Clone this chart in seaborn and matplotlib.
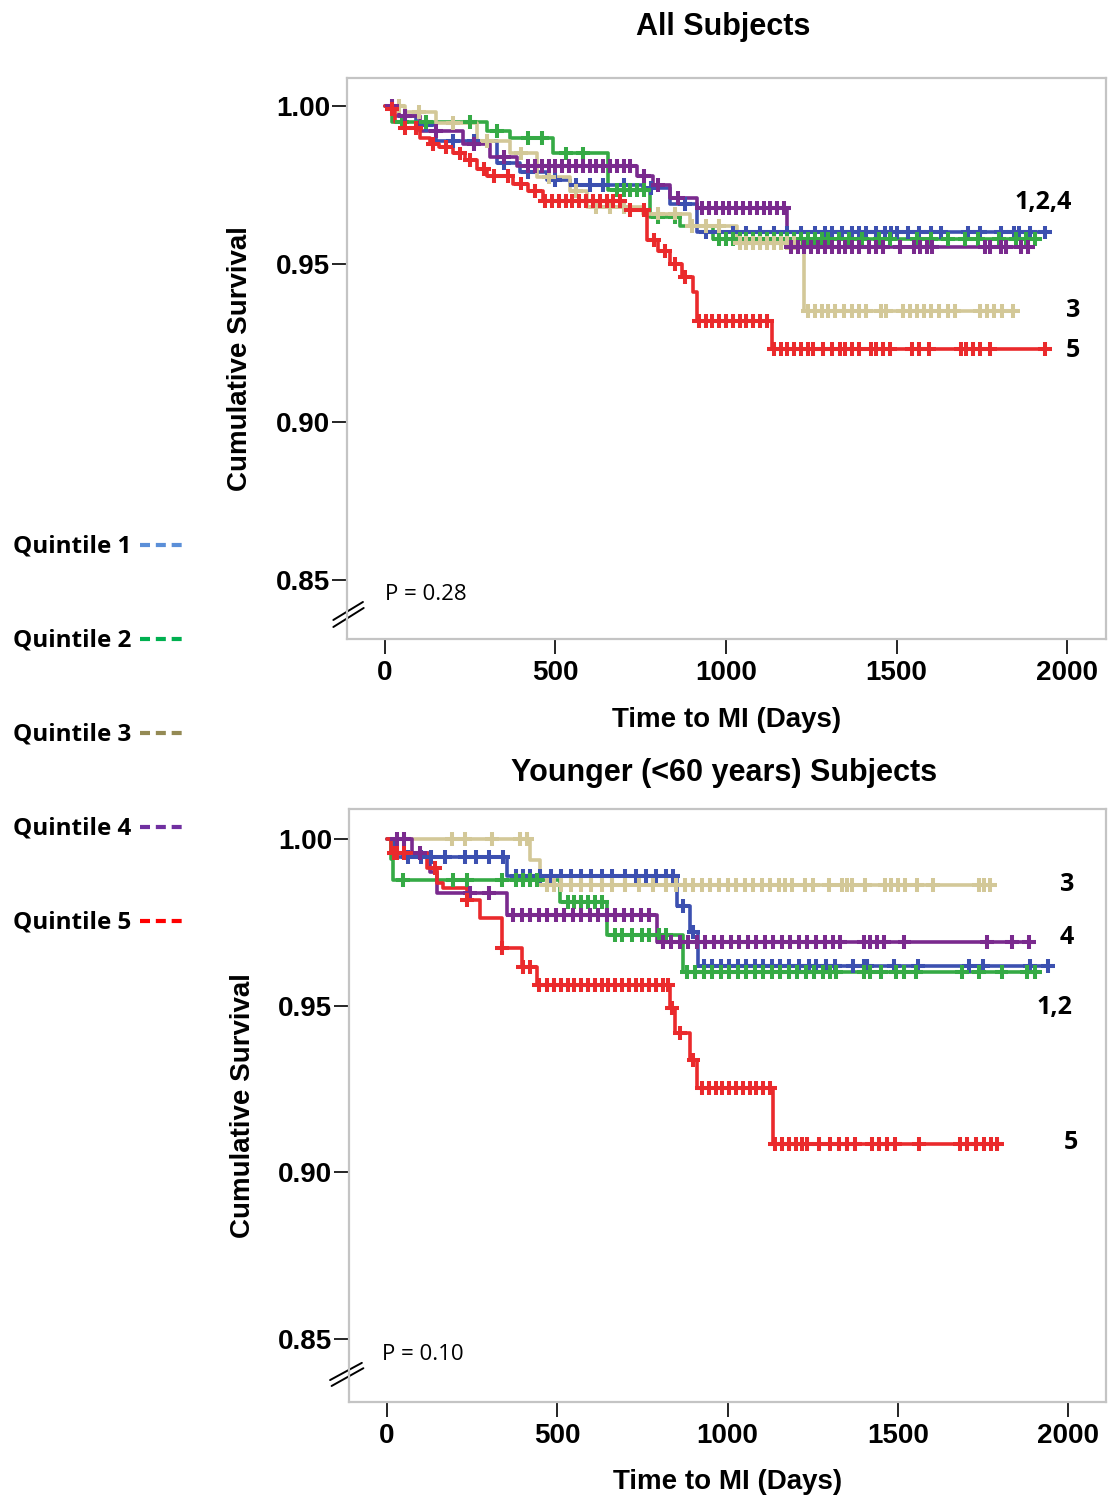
import numpy as np
import pandas as pd
import matplotlib
matplotlib.use("Agg")
import matplotlib.pyplot as plt
import seaborn as sns
from matplotlib.lines import Line2D

sns.set_theme(style="white")
plt.rcParams['font.family'] = ['Liberation Sans', 'DejaVu Sans']
plt.rcParams['text.color'] = 'black'
plt.rcParams['axes.labelcolor'] = 'black'
plt.rcParams['xtick.color'] = 'black'
plt.rcParams['ytick.color'] = 'black'

# ---------------- data ----------------
quintiles = ["Quintile 1", "Quintile 2", "Quintile 3", "Quintile 4", "Quintile 5"]
curve_colors = ["#3c50b0", "#35aa45", "#d3c898", "#7a2a8e", "#ea2a2c"]
legend_colors = ["#5b8fd8", "#00b050", "#948a54", "#7030a0", "#ff0000"]

x_ticks = [0, 500, 1000, 1500, 2000]
y_ticks = [0.85, 0.90, 0.95, 1.00]
y_tick_labels = ["0.85", "0.90", "0.95", "1.00"]

# ---- Panel A: All Subjects (event times, survival after event, last follow-up, censor times)
a_q1_t = [25, 90, 150, 330, 396, 475, 543, 757, 836, 915]
a_q1_s = [0.997, 0.994, 0.989, 0.982, 0.979, 0.9766, 0.975, 0.974, 0.969, 0.960]
a_q1_end = 1935
a_q1_c = [60, 120, 200, 260, 350, 420, 500, 560, 600, 640, 700, 780, 880, 940, 980, 1020,
          1060, 1100, 1140, 1180, 1220, 1260, 1290, 1310, 1340, 1370, 1390, 1410, 1440,
          1465, 1485, 1500, 1535, 1565, 1600, 1630, 1710, 1745, 1805, 1845, 1860, 1890, 1935]

a_q2_t = [20, 300, 367, 493, 655, 777, 865, 962]
a_q2_s = [0.995, 0.992, 0.990, 0.985, 0.9734, 0.965, 0.962, 0.958]
a_q2_end = 1906
a_q2_c = [50, 120, 250, 330, 420, 460, 530, 580, 680, 700, 720, 740, 760, 800, 850, 980,
          1000, 1020, 1040, 1060, 1080, 1100, 1120, 1140, 1160, 1180, 1200, 1220, 1240,
          1260, 1280, 1300, 1330, 1360, 1400, 1450, 1480, 1560, 1600, 1650, 1700, 1740,
          1800, 1850, 1880, 1906]

a_q3_t = [60, 150, 270, 367, 445, 543, 592, 757, 894, 1032, 1230]
a_q3_s = [0.998, 0.9946, 0.989, 0.985, 0.9775, 0.973, 0.968, 0.966, 0.962, 0.9566, 0.935]
a_q3_end = 1842
a_q3_c = [40, 100, 200, 300, 400, 480, 560, 620, 660, 700, 800, 850, 900, 940, 980, 1040,
          1060, 1080, 1100, 1120, 1140, 1160, 1180, 1200, 1240, 1260, 1280, 1300, 1320,
          1345, 1370, 1390, 1410, 1455, 1470, 1520, 1540, 1560, 1580, 1600, 1625, 1650,
          1670, 1745, 1765, 1785, 1810, 1842]

a_q4_t = [40, 103, 229, 308, 387, 739, 786, 836, 915, 1179]
a_q4_s = [0.997, 0.992, 0.988, 0.984, 0.981, 0.978, 0.975, 0.971, 0.9677, 0.9554]
a_q4_end = 1891
a_q4_c = [20, 60, 150, 260, 350, 420, 440, 460, 480, 500, 520, 540, 560, 580, 600, 620,
          640, 660, 680, 700, 720, 760, 800, 860, 930, 950, 970, 990, 1010, 1030, 1050,
          1070, 1090, 1110, 1130, 1150, 1170, 1190, 1210, 1230, 1250, 1270, 1290, 1310,
          1330, 1350, 1370, 1390, 1420, 1440, 1460, 1510, 1550, 1570, 1590, 1605, 1760,
          1775, 1805, 1820, 1865, 1885]

a_q5_t = [10, 30, 55, 103, 132, 160, 200, 235, 270, 300, 375, 420, 463, 700, 768, 800,
          836, 870, 903, 915, 1135]
a_q5_s = [0.999, 0.995, 0.993, 0.990, 0.988, 0.987, 0.985, 0.983, 0.980, 0.978, 0.9755,
          0.973, 0.970, 0.967, 0.9576, 0.954, 0.950, 0.946, 0.941, 0.932, 0.923]
a_q5_end = 1935
a_q5_c = [20, 60, 90, 140, 180, 220, 250, 290, 320, 360, 400, 440, 470, 490, 510, 530,
          550, 570, 590, 610, 630, 650, 670, 690, 720, 760, 790, 820, 850, 880, 920, 940,
          960, 980, 1000, 1020, 1040, 1060, 1080, 1100, 1120, 1140, 1160, 1180, 1200,
          1220, 1240, 1255, 1285, 1310, 1335, 1350, 1370, 1390, 1425, 1440, 1460, 1480,
          1545, 1565, 1595, 1690, 1705, 1725, 1745, 1775, 1935]

# ---- Panel B: Younger (<60 years) Subjects
b_q1_t = [20, 352, 852, 890, 914]
b_q1_s = [0.9946, 0.9889, 0.980, 0.972, 0.962]
b_q1_end = 1941
b_q1_c = [60, 100, 130, 170, 230, 260, 300, 340, 380, 400, 420, 450, 480, 510, 540, 570,
          600, 630, 660, 700, 730, 760, 790, 820, 840, 870, 900, 930, 955, 980, 1005,
          1030, 1055, 1080, 1105, 1130, 1155, 1180, 1210, 1240, 1260, 1290, 1315, 1370,
          1400, 1410, 1490, 1560, 1710, 1750, 1890, 1941]

b_q2_t = [10, 18, 508, 646, 869]
b_q2_s = [0.994, 0.9877, 0.981, 0.9713, 0.960]
b_q2_end = 1903
b_q2_c = [47, 194, 235, 338, 380, 400, 420, 440, 530, 550, 570, 590, 610, 630, 670, 690,
          720, 750, 770, 800, 820, 880, 905, 930, 955, 980, 1005, 1030, 1055, 1080, 1105,
          1130, 1155, 1180, 1205, 1230, 1255, 1280, 1300, 1320, 1400, 1420, 1450, 1495,
          1520, 1555, 1690, 1740, 1805, 1880, 1903]

b_q3_t = [420, 449]
b_q3_s = [0.9937, 0.9862]
b_q3_end = 1771
b_q3_c = [50, 191, 230, 309, 390, 410, 470, 490, 510, 540, 570, 600, 630, 660, 700, 740,
          780, 820, 850, 875, 900, 925, 950, 975, 1000, 1025, 1050, 1075, 1100, 1125,
          1150, 1170, 1190, 1227, 1250, 1298, 1336, 1350, 1366, 1404, 1462, 1480, 1500,
          1521, 1556, 1604, 1738, 1755, 1771]

b_q4_t = [73, 126, 147, 352, 793]
b_q4_s = [0.9958, 0.990, 0.9838, 0.9772, 0.9692]
b_q4_end = 1894
b_q4_c = [30, 50, 97, 244, 300, 370, 395, 420, 445, 470, 495, 520, 545, 570, 595, 620,
          645, 670, 695, 720, 745, 770, 810, 835, 860, 885, 910, 935, 960, 985, 1010,
          1035, 1060, 1085, 1110, 1135, 1160, 1185, 1210, 1235, 1260, 1285, 1310, 1330,
          1400, 1420, 1440, 1460, 1520, 1762, 1835, 1885]

b_q5_t = [10, 117, 147, 165, 235, 273, 338, 396, 440, 831, 846, 890, 910, 1134]
b_q5_s = [0.9958, 0.9913, 0.9868, 0.9853, 0.9817, 0.9763, 0.9674, 0.9617, 0.9563,
          0.9494, 0.9419, 0.9338, 0.9254, 0.9084]
b_q5_end = 1795
b_q5_c = [20, 30, 50, 142, 235, 338, 400, 420, 446, 470, 490, 510, 530, 550, 570, 590,
          610, 630, 650, 670, 690, 710, 730, 750, 770, 790, 810, 826, 838, 860, 900, 925,
          945, 965, 985, 1005, 1025, 1045, 1065, 1085, 1105, 1125, 1140, 1160, 1180,
          1200, 1220, 1233, 1270, 1300, 1328, 1350, 1375, 1425, 1445, 1470, 1492, 1562,
          1683, 1705, 1730, 1755, 1775, 1792]

panel_a = [(a_q1_t, a_q1_s, a_q1_end, a_q1_c), (a_q2_t, a_q2_s, a_q2_end, a_q2_c),
           (a_q3_t, a_q3_s, a_q3_end, a_q3_c), (a_q4_t, a_q4_s, a_q4_end, a_q4_c),
           (a_q5_t, a_q5_s, a_q5_end, a_q5_c)]
panel_b = [(b_q1_t, b_q1_s, b_q1_end, b_q1_c), (b_q2_t, b_q2_s, b_q2_end, b_q2_c),
           (b_q3_t, b_q3_s, b_q3_end, b_q3_c), (b_q4_t, b_q4_s, b_q4_end, b_q4_c),
           (b_q5_t, b_q5_s, b_q5_end, b_q5_c)]

a_group_labels = ["1,2,4", "3", "5"]
a_group_pos = [(2015, 0.9696, 'right'), (2018, 0.9354, 'center'), (2018, 0.9225, 'center')]
b_group_labels = ["3", "4", "1,2", "5"]
b_group_pos = [(1997, 0.9862, 'center'), (1997, 0.9703, 'center'), (2012, 0.9493, 'right'),
               (2009, 0.9088, 'center')]

CAL = ["Open Sans", "DejaVu Sans"]

# ---------------- helpers ----------------
def build_frames(panel):
    lines, cens = [], []
    for q, (t, s, end, c) in zip(quintiles, panel):
        tt = [0] + list(t) + [end]
        ss = [1.0] + list(s) + [s[-1]]
        lines.append(pd.DataFrame({"t": tt, "s": ss, "q": q}))
        idx = np.searchsorted(np.asarray(t), np.asarray(c), side="right") - 1
        sv = np.where(idx < 0, 1.0, np.asarray(s)[np.clip(idx, 0, None)])
        cens.append(pd.DataFrame({"t": c, "s": sv, "q": q}))
    return pd.concat(lines, ignore_index=True), pd.concat(cens, ignore_index=True)


pal = dict(zip(quintiles, curve_colors))

W, H = 1108, 1499
fig = plt.figure(figsize=(W / 100, H / 100), dpi=100)

def axes_px(left, top, right, bottom):
    return fig.add_axes([left / W, 1 - bottom / H, (right - left) / W, (bottom - top) / H])

ax_a = axes_px(347, 78, 1106, 639)
ax_b = axes_px(349, 809, 1106, 1402)

def draw_panel(ax, panel, xlim, ylim, ptxt, ppos, glabels, gpos, brk, ylab_xy, xlab_xy):
    df_l, df_c = build_frames(panel)
    sns.lineplot(data=df_l, x="t", y="s", hue="q", palette=pal, estimator=None, sort=False,
                 drawstyle="steps-post", linewidth=2.6, legend=False, ax=ax)
    sns.scatterplot(data=df_c, x="t", y="s", hue="q", palette=pal, marker="+", s=100,
                    linewidth=2.9, legend=False, ax=ax, zorder=3)
    ax.set_xlim(*xlim)
    ax.set_ylim(*ylim)
    ax.set_xticks(x_ticks)
    ax.set_xticklabels([str(v) for v in x_ticks])
    ax.set_yticks(y_ticks)
    ax.set_yticklabels(y_tick_labels)
    for sp in ax.spines.values():
        sp.set_color("#c4c4c4")
        sp.set_linewidth(1.6)
    ax.tick_params(axis="both", which="major", direction="out", length=11, width=1.2,
                   colors="black", labelsize=20)
    ax.tick_params(axis="y", pad=1)
    ax.tick_params(axis="x", pad=4)
    ax.tick_params(left=True, bottom=True)
    for lab in ax.get_xticklabels() + ax.get_yticklabels():
        lab.set_fontweight("bold")
    ax.set_ylabel("Cumulative Survival", fontsize=20, fontweight="bold")
    ax.set_xlabel("Time to MI (Days)", fontsize=20, fontweight="bold")
    ax.yaxis.set_label_coords(*ylab_xy)
    ax.xaxis.set_label_coords(*xlab_xy)
    ax.text(ppos[0], ppos[1], ptxt, fontsize=16, family=CAL,
            va="center", ha="left")
    for lab, (gx, gy, ha) in zip(glabels, gpos):
        ax.text(gx, gy, lab, fontsize=18, fontweight="bold", family=CAL,
                ha=ha, va="center")
    for (x0, y0, x1, y1) in brk:
        ax.add_line(Line2D([x0, x1], [y0, y1], transform=ax.transAxes, color="black",
                           linewidth=1.4, clip_on=False))
    ax.grid(False)

draw_panel(ax_a, panel_a, (-111, 2114), (0.8313, 1.0089), "P = 0.28", (0, 0.8453),
           a_group_labels, a_group_pos,
           [(-0.018, 0.0339, 0.021, 0.066), (-0.018, 0.0214, 0.022, 0.0553)],
           (-0.124, 0.5), (0.5, -0.121))
draw_panel(ax_b, panel_b, (-112, 2112), (0.8311, 1.009), "P = 0.10", (-15, 0.8452),
           b_group_labels, b_group_pos,
           [(-0.025, 0.037, 0.017, 0.066), (-0.023, 0.027, 0.019, 0.057)],
           (-0.123, 0.5), (0.5, -0.113))

fig.text(723 / W, 1 - 27 / H, "All Subjects", fontsize=22, fontweight="bold",
         ha="center", va="center")
fig.text(724 / W, 1 - 773 / H, "Younger (<60 years) Subjects", fontsize=22,
         fontweight="bold", ha="center", va="center")

# legend
leg_y = [547, 641, 735, 829, 923]
for q, col, yy in zip(quintiles, legend_colors, leg_y):
    fig.text(13 / W, 1 - yy / H, q, fontsize=17.5, fontweight="bold",
             family=CAL, ha="left", va="center")
    fig.add_artist(Line2D([140 / W, 182 / W], [1 - (yy - 2) / H, 1 - (yy - 2) / H],
                          transform=fig.transFigure, color=col, linewidth=3.0,
                          dashes=[2.4, 1.4], dash_capstyle="butt"))

fig.savefig("out.png", dpi=100)
